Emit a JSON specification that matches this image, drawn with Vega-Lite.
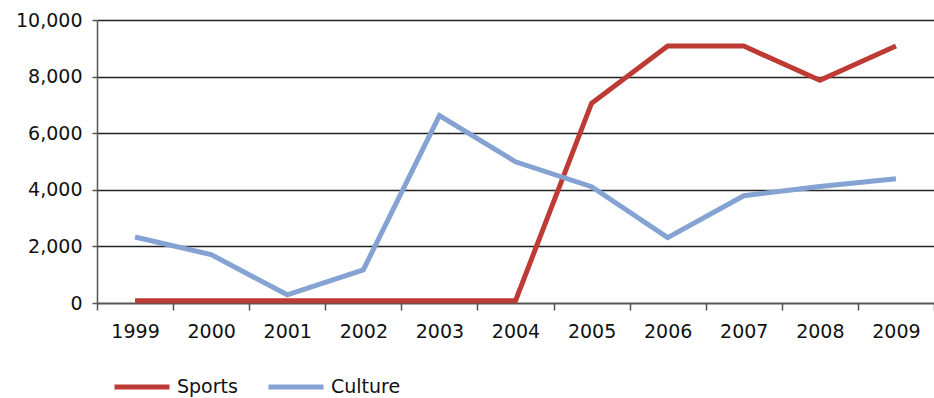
{
  "$schema": "https://vega.github.io/schema/vega-lite/v6.json",
  "width": 837,
  "height": 283,
  "autosize": {"type": "none"},
  "padding": {"left": 97, "top": 20, "right": 0, "bottom": 95},
  "background": "white",
  "config": {"view": {"stroke": null}, "font": "DejaVu Sans"},
  "data": {
    "values": [
      {"year": "1999", "series": "Sports", "value": 80},
      {"year": "2000", "series": "Sports", "value": 80},
      {"year": "2001", "series": "Sports", "value": 80},
      {"year": "2002", "series": "Sports", "value": 80},
      {"year": "2003", "series": "Sports", "value": 80},
      {"year": "2004", "series": "Sports", "value": 80},
      {"year": "2005", "series": "Sports", "value": 7060},
      {"year": "2006", "series": "Sports", "value": 9080},
      {"year": "2007", "series": "Sports", "value": 9080},
      {"year": "2008", "series": "Sports", "value": 7870},
      {"year": "2009", "series": "Sports", "value": 9080},
      {"year": "1999", "series": "Culture", "value": 2330},
      {"year": "2000", "series": "Culture", "value": 1710},
      {"year": "2001", "series": "Culture", "value": 290},
      {"year": "2002", "series": "Culture", "value": 1170},
      {"year": "2003", "series": "Culture", "value": 6620},
      {"year": "2004", "series": "Culture", "value": 4990},
      {"year": "2005", "series": "Culture", "value": 4110},
      {"year": "2006", "series": "Culture", "value": 2310},
      {"year": "2007", "series": "Culture", "value": 3790},
      {"year": "2008", "series": "Culture", "value": 4120},
      {"year": "2009", "series": "Culture", "value": 4390}
    ]
  },
  "mark": {"type": "line", "strokeWidth": 5},
  "encoding": {
    "x": {
      "field": "year",
      "type": "ordinal",
      "bandPosition": 0.5,
      "scale": {"type": "band", "paddingInner": 0, "paddingOuter": 0},
      "axis": {
        "title": null,
        "labelAngle": 0,
        "tickBand": "extent",
        "tickSize": 7,
        "labelPadding": 12,
        "labelFontSize": 19,
        "labelColor": "#111",
        "domainColor": "#555",
        "domainWidth": 1.5,
        "tickColor": "#555",
        "tickWidth": 1.5,
        "grid": false
      }
    },
    "y": {
      "field": "value",
      "type": "quantitative",
      "scale": {"domain": [0, 10000], "nice": false},
      "axis": {
        "title": null,
        "values": [0, 2000, 4000, 6000, 8000, 10000],
        "format": ",.0f",
        "grid": true,
        "gridColor": "#222",
        "gridWidth": 1.5,
        "tickSize": 5,
        "tickColor": "#555",
        "tickWidth": 1.5,
        "domainColor": "#555",
        "domainWidth": 1.5,
        "labelPadding": 10,
        "labelFontSize": 19,
        "labelColor": "#111"
      }
    },
    "color": {
      "field": "series",
      "type": "nominal",
      "scale": {"domain": ["Sports", "Culture"], "range": ["#BE3A34", "#84A3D3"]},
      "legend": {
        "title": null,
        "orient": "none",
        "legendX": 15,
        "legendY": 337,
        "direction": "horizontal",
        "symbolType": "stroke",
        "symbolSize": 3025,
        "symbolStrokeWidth": 5,
        "labelFontSize": 19,
        "labelColor": "#111",
        "labelOffset": 5,
        "columnPadding": 20
      }
    }
  }
}
